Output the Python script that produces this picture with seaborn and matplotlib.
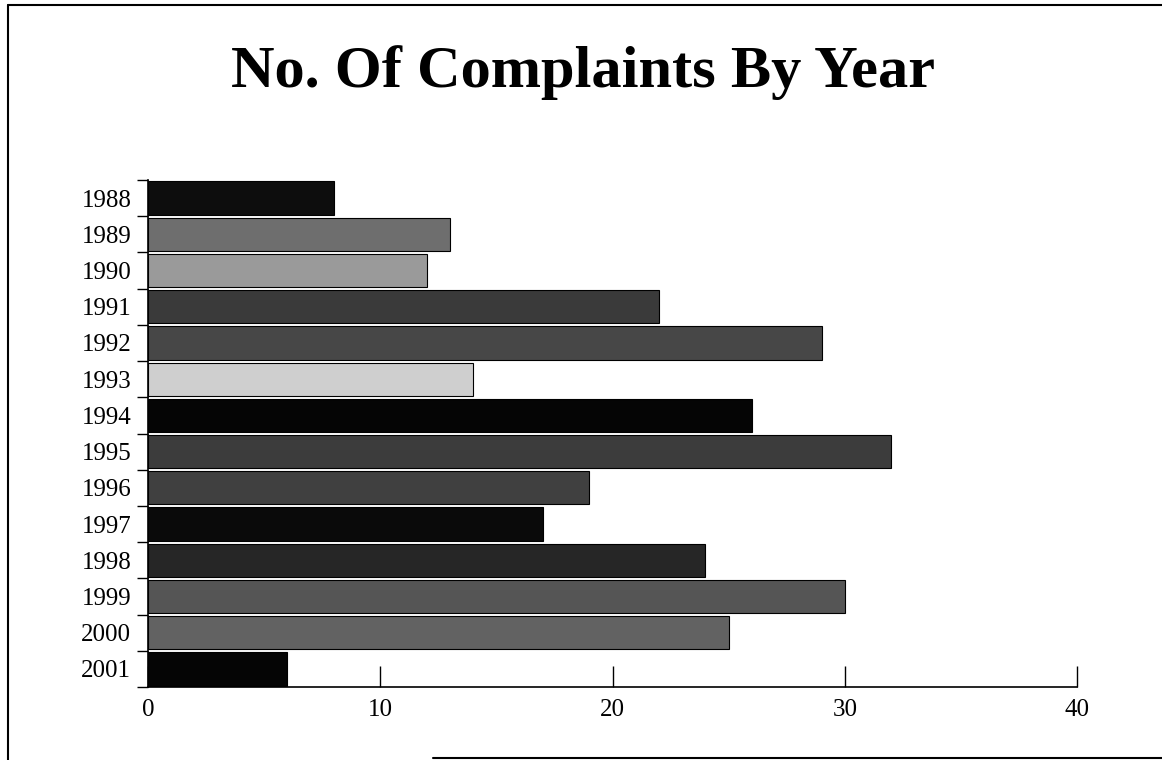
import matplotlib
matplotlib.use('Agg')
import matplotlib.pyplot as plt
import seaborn as sns
import pandas as pd
from matplotlib.lines import Line2D

years = ["1988", "1989", "1990", "1991", "1992", "1993", "1994",
         "1995", "1996", "1997", "1998", "1999", "2000", "2001"]
complaints = [8, 13, 12, 22, 29, 14, 26, 32, 19, 17, 24, 30, 25, 6]
bar_colors = ["#0d0d0d", "#6e6e6e", "#9a9a9a", "#3a3a3a", "#474747", "#cfcfcf", "#050505",
              "#3c3c3c", "#404040", "#0a0a0a", "#262626", "#555555", "#626262", "#050505"]
x_ticks = [0, 10, 20, 30, 40]

sns.set_theme(style="white")
plt.rcParams['font.family'] = ['Liberation Serif', 'DejaVu Serif']
plt.rcParams['text.color'] = 'black'
plt.rcParams['xtick.color'] = 'black'
plt.rcParams['ytick.color'] = 'black'

df = pd.DataFrame({"year": years, "complaints": complaints})

fig = plt.figure(figsize=(11.62, 7.6), dpi=100)
ax = fig.add_axes([0.1274, 0.0961, 0.7995, 0.667])

sns.barplot(data=df, x="complaints", y="year", hue="year", palette=bar_colors,
            orient="h", width=0.92, legend=False, ax=ax,
            edgecolor="black", linewidth=0.8, saturation=1)

ax.set_xlim(0, 40)
ax.set_ylim(len(years) - 0.5, -0.5)
ax.set_xticks(x_ticks)
ax.set_xticklabels([str(t) for t in x_ticks], fontsize=18)
ax.tick_params(axis="x", bottom=True, direction="in", length=15, width=1,
               color="black", labelcolor="black", pad=9)
ax.set_yticks(range(len(years)))
ax.set_yticklabels(years, fontsize=18)
ax.tick_params(axis="y", which="major", left=False, length=0, pad=12, labelcolor="black")
ax.set_yticks([i - 0.5 for i in range(len(years) + 1)], minor=True)
ax.tick_params(axis="y", which="minor", left=True, direction="out", length=8, width=1, color="black")
ax.set_xlabel("")
ax.set_ylabel("")

for side in ["top", "right"]:
    ax.spines[side].set_visible(False)
for side in ["left", "bottom"]:
    ax.spines[side].set_color("black")
    ax.spines[side].set_linewidth(1.2)

fig.text(0.502, 0.905, "No. Of Complaints By Year", ha="center", va="center",
         fontsize=43.5, fontweight="bold", color="black")

# scanned page frame
fig.add_artist(Line2D([0.0069, 0.0069], [0.0, 0.9934], color="black", lw=1.5))
fig.add_artist(Line2D([0.0069, 1.0], [0.9934, 0.9934], color="black", lw=1.5))
fig.add_artist(Line2D([0.373, 1.0], [0.0026, 0.0026], color="black", lw=1.5))

fig.savefig("out.png", dpi=100)
